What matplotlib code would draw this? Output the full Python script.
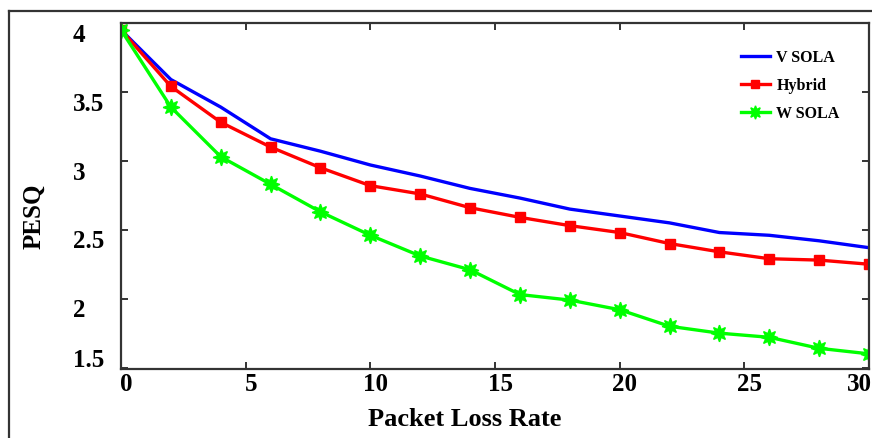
import matplotlib
matplotlib.use('Agg')
import matplotlib.pyplot as plt
import matplotlib.transforms as mtransforms
from matplotlib.lines import Line2D

plt.rcParams['font.family'] = ['Liberation Serif', 'DejaVu Serif']
plt.rcParams['font.weight'] = 'bold'

# data
loss_rate = [0, 2, 4, 6, 8, 10, 12, 14, 16, 18, 20, 22, 24, 26, 28, 30]
v_sola = [3.95, 3.59, 3.39, 3.16, 3.07, 2.97, 2.89, 2.80, 2.73, 2.65, 2.60, 2.55, 2.48, 2.46, 2.42, 2.37]
hybrid = [3.95, 3.54, 3.28, 3.10, 2.95, 2.82, 2.76, 2.66, 2.59, 2.53, 2.48, 2.40, 2.34, 2.29, 2.28, 2.25]
w_sola = [3.95, 3.39, 3.03, 2.83, 2.63, 2.46, 2.31, 2.21, 2.03, 1.99, 1.92, 1.80, 1.75, 1.72, 1.64, 1.60]
x_ticks = [0, 5, 10, 15, 20, 25, 30]
y_ticks = [1.5, 2, 2.5, 3, 3.5, 4]
y_tick_labels = ['1.5', '2', '2.5', '3', '3.5', '4']

W, H = 872, 438
fig = plt.figure(figsize=(W / 100, H / 100), dpi=100)
ax = fig.add_axes([121 / W, 1 - 369 / H, 748 / W, 346 / H])

ax.plot(loss_rate, v_sola, color='#0000ff', lw=2.4, label='V SOLA')
ax.plot(loss_rate, hybrid, color='#ff0000', lw=2.4, marker='s', ms=7.5, label='Hybrid')
ax.plot(loss_rate, w_sola, color='#00ff00', lw=2.4, marker=(8, 1, 0), ms=12, label='W SOLA')

ax.set_xlim(0, 30)
ax.set_ylim(1.49, 4.0)
ax.set_xticks(x_ticks)
ax.set_yticks(y_ticks)
ax.set_yticklabels(y_tick_labels)

for sp in ax.spines.values():
    sp.set_color('#333333')
    sp.set_linewidth(1.6)

ax.tick_params(direction='in', length=5, width=1.4, color='#333333',
               top=True, right=True, labelsize=18)
ax.tick_params(axis='x', pad=3)
ax.tick_params(axis='y', pad=34.5)
for lab in ax.get_yticklabels():
    lab.set_horizontalalignment('left')
    dy = 7 / 72 if lab.get_text() == '1.5' else -7 / 72
    lab.set_transform(lab.get_transform() + mtransforms.ScaledTranslation(0, dy, fig.dpi_scale_trans))
for lab in ax.get_xticklabels():
    dx = -10 / 100 if lab.get_text() == '30' else 5 / 100
    lab.set_transform(lab.get_transform() + mtransforms.ScaledTranslation(dx, 0, fig.dpi_scale_trans))

fig.text(465 / W, 1 - 420 / H, 'Packet Loss Rate', ha='center', va='center', fontsize=19, fontweight='bold')
fig.text(34 / W, 1 - 216 / H, 'PESQ', ha='center', va='center', rotation=90, fontsize=18, fontweight='bold')

leg = ax.legend(loc='upper left', bbox_to_anchor=(0.829, 0.922), frameon=False,
                fontsize=11.5, handlelength=1.8, handletextpad=0.4, labelspacing=0.75,
                borderpad=0, borderaxespad=0, markerscale=0.8)

# outer frame around the figure
fig.add_artist(Line2D([9 / W, 9 / W], [0, 1 - 11 / H], color='#333333', lw=1.6))
fig.add_artist(Line2D([9 / W, 1], [1 - 11 / H, 1 - 11 / H], color='#333333', lw=1.6))

fig.savefig('out.png', dpi=100)
